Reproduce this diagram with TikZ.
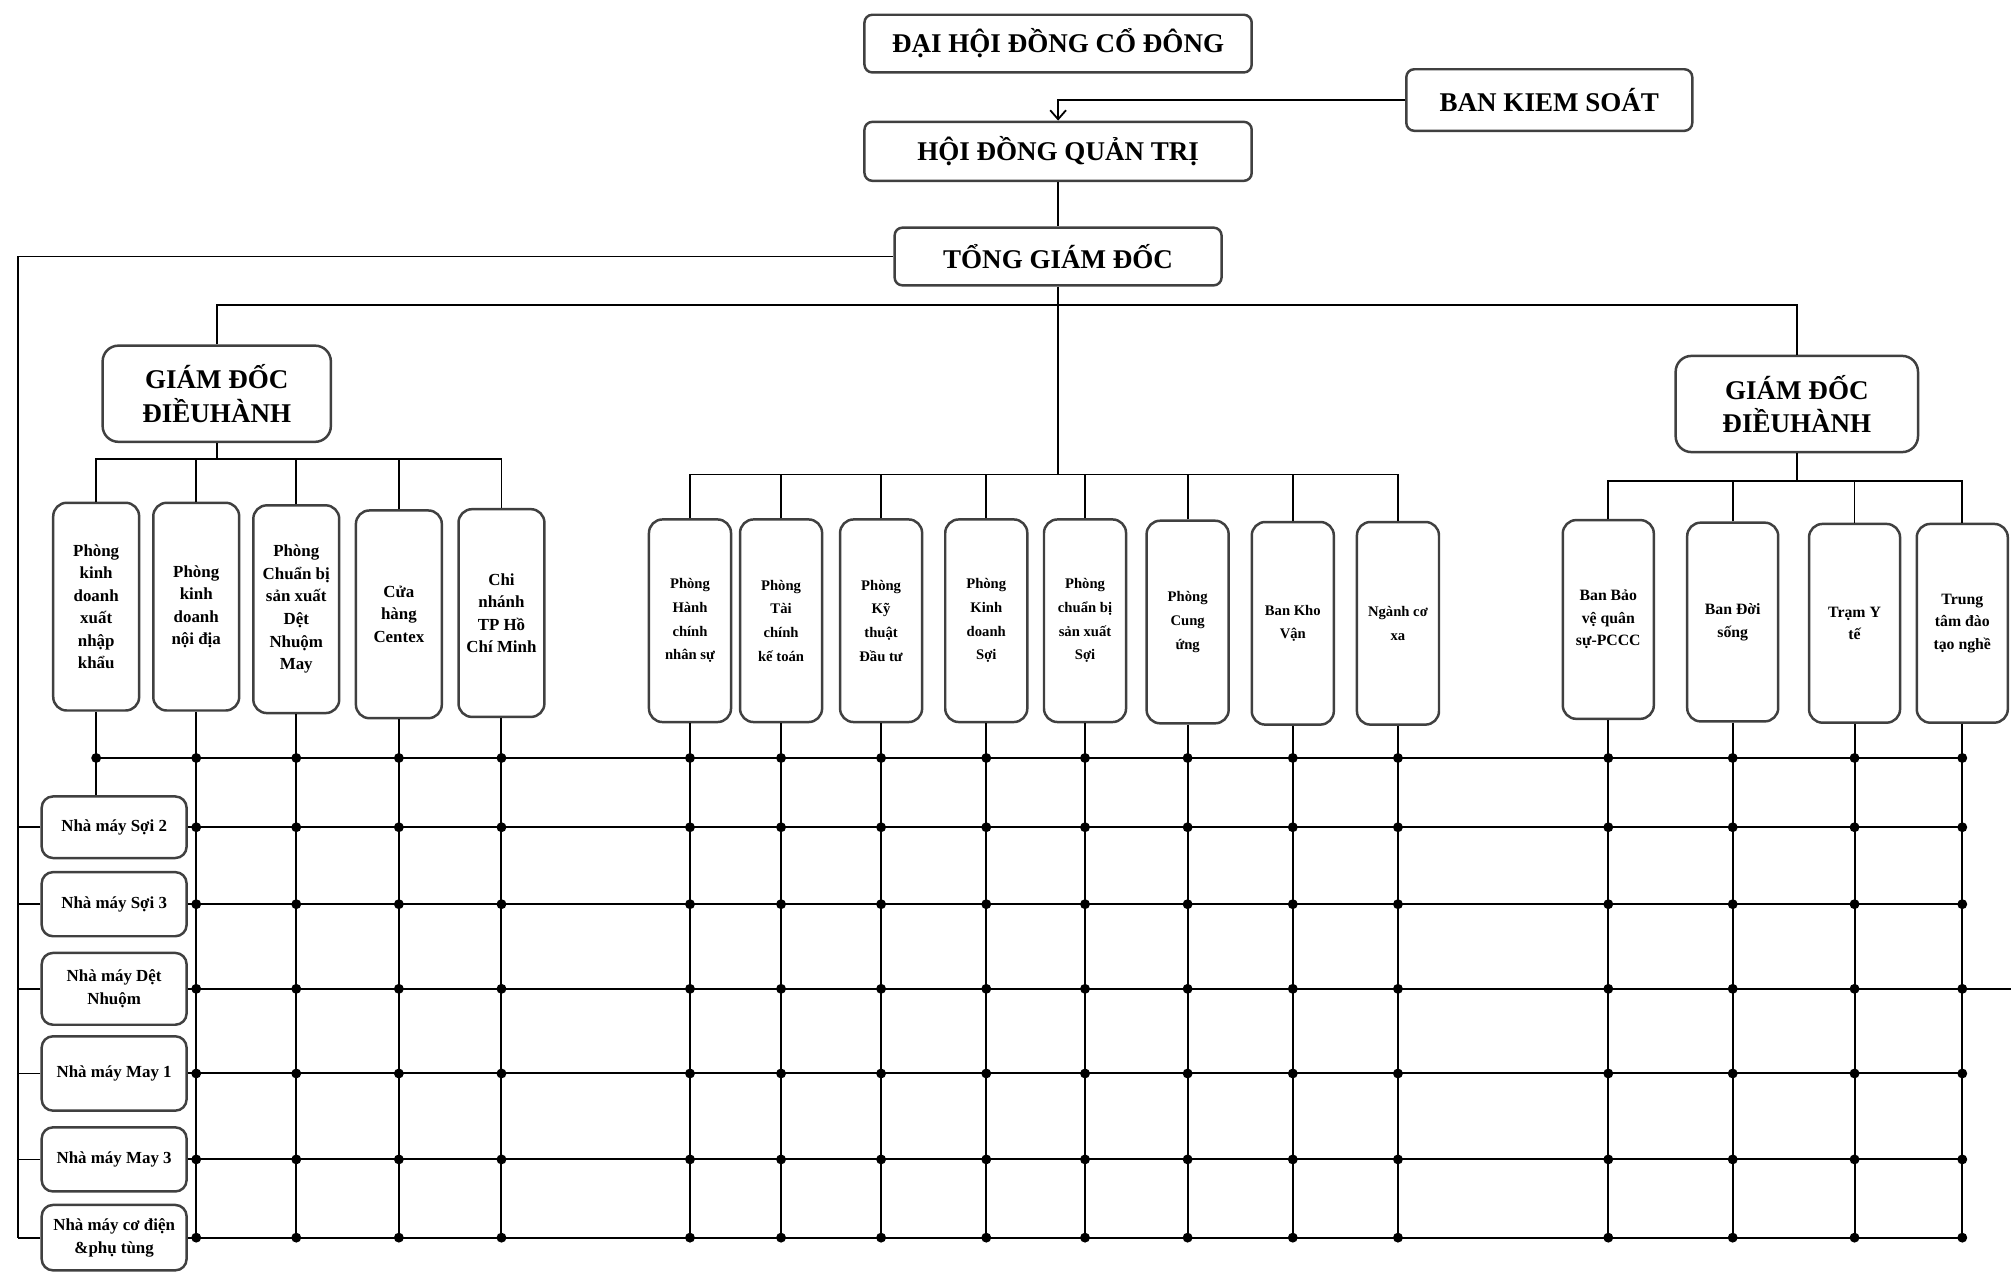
\documentclass[tikz,border=0pt]{standalone}
\usepackage{fontspec}
\setmainfont{Liberation Serif}
\usepackage{tikz}
\usetikzlibrary{arrows.meta, positioning, calc}

\begin{document}
\begin{tikzpicture}[
  x=0.02cm, y=-0.02cm,
  box/.style={draw=black!75, line width=1.1pt, fill=white, align=center, inner sep=1pt},
  topbox/.style={box, rounded corners=3.5pt, minimum height=0.9cm, font=\fontsize{12}{15}\selectfont\bfseries},
  gdbox/.style={box, rounded corners=7pt, minimum height=1.5cm, font=\fontsize{12}{15}\selectfont\bfseries},
  deptL/.style={box, rounded corners=6pt, minimum width=1.34cm, minimum height=3.24cm, font=\fontsize{7.5}{10}\selectfont\bfseries},
  deptM/.style={box, rounded corners=6pt, minimum width=1.28cm, minimum height=3.16cm, font=\fontsize{6.5}{10.5}\selectfont\bfseries},
  deptR/.style={box, rounded corners=6pt, minimum width=1.42cm, minimum height=3.1cm, font=\fontsize{7}{10}\selectfont\bfseries},
  factory/.style={box, rounded corners=5pt, minimum width=2.26cm, font=\fontsize{7.5}{10}\selectfont\bfseries},
  link/.style={draw, line width=0.8pt},
  mesh/.style={draw, line width=0.9pt}
]
  \useasboundingbox (0,0) rectangle (1568,993);

  % Top levels
  \node[topbox, minimum width=6.04cm] (dhdcd) at (825,34) {ĐẠI HỘI ĐỒNG CỔ ĐÔNG};
  \node[topbox, minimum width=4.46cm, minimum height=0.96cm] (bks) at (1208,78) {BAN KIEM SOÁT};
  \node[topbox, minimum width=6.04cm, minimum height=0.92cm] (hdqt) at (825,118) {HỘI ĐỒNG QUẢN TRỊ};
  \node[topbox, minimum width=5.1cm] (tgd) at (825,200) {TỔNG GIÁM ĐỐC};

  % Executive directors
  \node[gdbox, minimum width=3.56cm] (gddhL) at (169,307) {GIÁM ĐỐC\\ĐIỀUHÀNH};
  \node[gdbox, minimum width=3.78cm] (gddhR) at (1401,315) {GIÁM ĐỐC\\ĐIỀUHÀNH};

  % Left departments
  \node[deptL] (l1) at (75,473)  {Phòng\\kinh\\doanh\\xuất\\nhập\\khẩu};
  \node[deptL] (l2) at (153,473) {Phòng\\kinh\\doanh\\nội địa};
  \node[deptL] (l3) at (231,475) {Phòng\\Chuẩn bị\\sản xuất\\Dệt\\Nhuộm\\May};
  \node[deptL] (l4) at (311,479) {Cửa\\hàng\\Centex};
  \node[deptL] (l5) at (391,478) {Chi\\nhánh\\TP Hồ\\Chí Minh};

  % Middle departments
  \node[deptM] (m1) at (538,484)  {Phòng\\Hành\\chính\\nhân sự};
  \node[deptM] (m2) at (609,484)  {Phòng\\Tài\\chính\\kế toán};
  \node[deptM] (m3) at (687,484)  {Phòng\\Kỹ\\thuật\\Đầu tư};
  \node[deptM] (m4) at (769,484)  {Phòng\\Kinh\\doanh\\Sợi};
  \node[deptM] (m5) at (846,484)  {Phòng\\chuẩn bị\\sản xuất\\Sợi};
  \node[deptM] (m6) at (926,485)  {Phòng\\Cung\\ứng};
  \node[deptM] (m7) at (1008,486) {Ban Kho\\Vận};
  \node[deptM] (m8) at (1090,486) {Ngành cơ\\xa};

  % Right departments
  \node[deptR] (r1) at (1254,483) {Ban Bảo\\vệ quân\\sự-PCCC};
  \node[deptR] (r2) at (1351,485) {Ban Đời\\sống};
  \node[deptR] (r3) at (1446,486) {Trạm Y\\tế};
  \node[deptR] (r4) at (1530,486) {Trung\\tâm đào\\tạo nghề};

  % Factories
  \node[factory, minimum height=0.96cm] (f1) at (89,645) {Nhà máy Sợi 2};
  \node[factory, minimum height=1.0cm]  (f2) at (89,705) {Nhà máy Sợi 3};
  \node[factory, minimum height=1.12cm] (f3) at (89,771) {Nhà máy Dệt\\Nhuộm};
  \node[factory, minimum height=1.16cm] (f4) at (89,837) {Nhà máy May 1};
  \node[factory, minimum height=1.0cm]  (f5) at (89,904) {Nhà máy May 3};
  \node[factory, minimum height=1.02cm] (f6) at (89,965) {Nhà máy cơ điện\\\&phụ tùng};

  % Connectors
  \draw[link, -{Straight Barb[length=4pt,width=7pt]}] (bks.west) -| (hdqt.north);
  \draw[link] (hdqt.south) -- (tgd.north);
  \coordinate (jt) at (825,238);
  \coordinate (mb) at (825,370);
  \coordinate (lb) at (169,358);
  \coordinate (rb) at (1401,375);
  \coordinate (lbus) at (14,965);
  \draw[link] (tgd.south) -- (mb);
  \draw[link] (gddhL.north) |- (jt) -| (gddhR.north);
  \draw[link] (tgd.west) -| (lbus);
  \foreach \f in {f1,f2,f3,f4,f5,f6}
    \draw[link] (\f.west) -- (\f.west -| lbus);

  \draw[link] (gddhL.south) -- (lb);
  \draw[link] (l1.north) |- (lb) -| (l5.north);
  \foreach \d in {l2,l3,l4}
    \draw[link] (\d.north) -- (\d.north |- lb);

  \draw[link] (m1.north) |- (mb) -| (m8.north);
  \foreach \i in {2,...,7}
    \draw[link] (m\i.north) -- (m\i.north |- mb);

  \draw[link] (gddhR.south) -- (rb);
  \draw[link] (r1.north) |- (rb) -| (r4.north);
  \foreach \d in {r2,r3}
    \draw[link] (\d.north) -- (\d.north |- rb);

  % Grid of links to factories
  \coordinate (row0) at (75,591);
  \coordinate (edge) at (1568,0);
  \draw[mesh] (l1.south) -- (l1.south |- f1.north);
  \draw[mesh] (row0) -- (row0 -| r4.south);
  \foreach \f in {f1,f2,f3,f4,f5,f6}
    \draw[mesh] (\f.east) -- (\f.east -| r4.south);
  \draw[mesh] (f3.east -| r4.south) -- (f3.east -| edge);
  \fill (row0) circle[radius=2.2pt];
  \foreach \c in {l2,l3,l4,l5,m1,m2,m3,m4,m5,m6,m7,m8,r1,r2,r3,r4} {
    \draw[mesh] (\c.south) -- (\c.south |- f6.east);
    \foreach \r in {row0,f1.east,f2.east,f3.east,f4.east,f5.east,f6.east}
      \fill (\c.south |- \r) circle[radius=2.2pt];
  }
\end{tikzpicture}
\end{document}
